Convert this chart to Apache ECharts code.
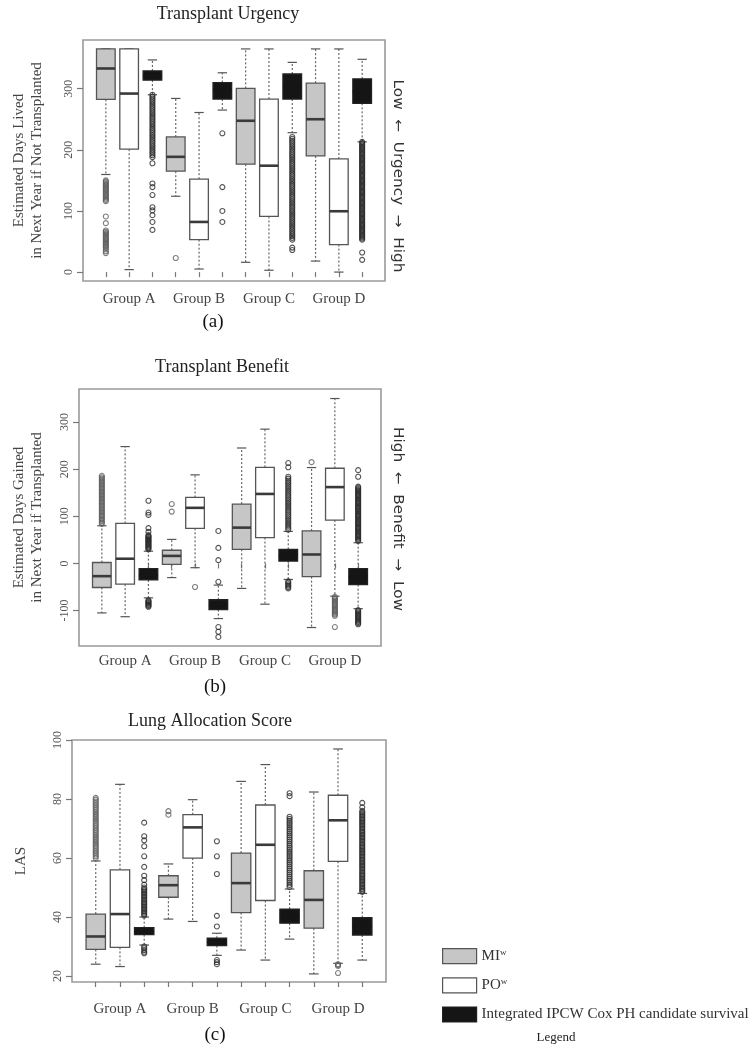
<!DOCTYPE html>
<html><head><meta charset="utf-8">
<script src="https://cdn.jsdelivr.net/npm/echarts@6/dist/echarts.min.js"></script>
<style>html,body{margin:0;padding:0;background:#fff}#c{width:750px;height:1050px}</style>
</head><body><div id="c"></div>
<script>
// ---------- data ----------
const groups = ['Group A', 'Group B', 'Group C', 'Group D'];
const methodNames = ['MI', 'PO', 'IPCW'];
const legendLabels = ['MI{s|w}', 'PO{s|w}', 'Integrated IPCW Cox PH candidate survival'];
const panelTitles = ['Transplant Urgency', 'Transplant Benefit', 'Lung Allocation Score'];
const panelCaptions = ['(a)', '(b)', '(c)'];
const yNames = ['Estimated Days Lived\nin Next Year if Not Transplanted', 'Estimated Days Gained\nin Next Year if Transplanted', 'LAS'];
const sideNotes = ['Low  \u2190  Urgency  \u2192  High', 'High  \u2190  Benefit  \u2192  Low'];
const urgTicks = [0, 100, 200, 300];
const benTicks = [-100, 0, 100, 200, 300];
const lasTicks = [20, 40, 60, 80, 100];

// box stats per group: [lower whisker, Q1, median, Q3, upper whisker]
const urgMI   = [[159.6, 282.5, 333, 365, 365], [124, 165, 188.5, 221, 284], [16, 176.5, 247.5, 300.5, 365], [18, 190, 250, 309, 365]];
const urgPO   = [[4, 201, 292, 365, 365], [5, 53, 82, 152, 261], [3, 91, 174, 283, 365], [0, 45, 99.5, 185, 365]];
const urgIPCW = [[290, 314, 321, 329, 347], [265, 283, 298, 310, 326], [228, 283, 302, 324, 343], [213, 276, 296, 316, 348]];

const benMI   = [[-105, -51, -27, 2, 80], [-30, -2, 16, 28, 51], [-53, 30, 76, 126, 245], [-136, -28, 19, 69, 203.5]];
const benPO   = [[-113, -44, 10, 85, 248], [-9, 74.5, 118, 140, 188], [-86.5, 55, 147.5, 204, 285], [-69.5, 92, 162, 202, 350]];
const benIPCW = [[-73, -35, -25, -11, 26], [-117, -98, -88, -77, -46], [-34, 5, 17, 30, 68], [-96, -45, -28, -11, 44]];

const lasMI   = [[24, 29, 33.4, 41, 59], [39.3, 46.7, 50.8, 54, 58], [28.8, 41.5, 51.5, 61.7, 86], [20.7, 36.2, 45.8, 55.7, 82.4]];
const lasPO   = [[23.2, 29.7, 41, 56, 85], [38.5, 60, 70.4, 74.7, 79.8], [25.4, 45.6, 64.5, 78, 91.7], [24.3, 58.9, 72.8, 81.3, 97]];
const lasIPCW = [[30.5, 34, 35, 36.4, 40], [27, 30.3, 31.5, 32.8, 34.5], [32.5, 37.9, 40, 42.7, 49.5], [25.4, 33.9, 37, 39.8, 48]];

// outliers per group
const urgMIout = [
  [150, 148, 146, 144, 142, 140, 138, 136, 134, 132, 130, 128, 126, 124, 122, 120, 118, 116, 91, 80, 68, 66, 64, 62, 60, 58, 56, 54, 52, 50, 48, 46, 44, 42, 40, 37, 34, 31],
  [23], [], []];
const urgPOout = [[], [], [], []];
const urgIPCWout = [
  [290, 287, 284, 281, 278, 275, 272, 269, 266, 263, 260, 257, 254, 251, 248, 245, 242, 239, 236, 233, 230, 227, 224, 221, 218, 215, 212, 209, 206, 203, 200, 197, 194, 191, 188, 178, 145, 139, 126, 106, 101, 93, 82, 69],
  [227, 139, 100, 82],
  [221, 218, 215, 212, 209, 206, 203, 200, 197, 194, 191, 188, 185, 182, 179, 176, 173, 170, 167, 164, 161, 158, 155, 152, 149, 146, 143, 140, 137, 134, 131, 128, 125, 122, 119, 116, 113, 110, 107, 104, 101, 98, 95, 92, 89, 86, 83, 80, 77, 74, 71, 68, 65, 62, 59, 56, 53, 40, 36],
  [213, 211, 209, 207, 205, 203, 201, 199, 197, 195, 193, 191, 189, 187, 185, 183, 181, 179, 177, 175, 173, 171, 169, 167, 165, 163, 161, 159, 157, 155, 153, 151, 149, 147, 145, 143, 141, 139, 137, 135, 133, 131, 129, 127, 125, 123, 121, 119, 117, 115, 113, 111, 109, 107, 105, 103, 101, 99, 97, 95, 93, 91, 89, 87, 85, 83, 81, 79, 77, 75, 73, 71, 69, 67, 65, 63, 61, 59, 57, 55, 53, 32, 20]
];

const benMIout = [
  [186, 183, 180, 177, 174, 171, 168, 165, 162, 159, 156, 153, 150, 147, 144, 141, 138, 135, 132, 129, 126, 123, 120, 117, 114, 111, 108, 105, 102, 99, 96, 93, 90, 87, 84],
  [126, 110], [], [215]];
const benPOout = [[], [-50], [], [-71, -73.5, -76, -78.5, -81, -83.5, -86, -88.5, -91, -93.5, -96, -98.5, -101, -103.5, -106, -108.5, -111, -135]];
const benIPCWout = [
  [133, 108, 103, 75, 67, 60, 58, 56, 54, 52, 50, 48, 46, 44, 42, 40, 38, 36, 34, 32, 30, -78, -80, -82, -84, -86, -88, -90, -92],
  [69, 33, 7, -39, -135, -145, -156],
  [213, 204, 184, 180, 176, 172, 168, 164, 160, 156, 152, 148, 144, 140, 136, 132, 128, 124, 120, 116, 112, 108, 104, 100, 96, 92, 88, 84, 80, 76, 72, -38, -41, -44, -47, -50, -53],
  [198, 184, 163, 160.5, 158, 155.5, 153, 150.5, 148, 145.5, 143, 140.5, 138, 135.5, 133, 130.5, 128, 125.5, 123, 120.5, 118, 115.5, 113, 110.5, 108, 105.5, 103, 100.5, 98, 95.5, 93, 90.5, 88, 85.5, 83, 80.5, 78, 75.5, 73, 70.5, 68, 65.5, 63, 60.5, 58, 55.5, 53, 50.5, 48,
   -99, -101.5, -104, -106.5, -109, -111.5, -114, -116.5, -119, -121.5, -124, -126.5, -129]
];

const lasMIout = [
  [80.4, 79.8, 79.2, 78.6, 78, 77.4, 76.8, 76.2, 75.6, 75, 74.4, 73.8, 73.2, 72.6, 72, 71.4, 70.8, 70.2, 69.6, 69, 68.4, 67.8, 67.2, 66.6, 66, 65.4, 64.8, 64.2, 63.6, 63, 62.4, 61.8, 61.2, 60.6, 60],
  [75.9, 74.7], [], []];
const lasPOout = [[], [], [], [24, 23.7, 23.4, 21]];
const lasIPCWout = [
  [72, 67.4, 66, 64, 60.6, 57, 54, 52.5, 51, 50, 49.5, 49, 48.5, 48, 47.5, 47, 46.5, 46, 45.5, 45, 44.5, 44, 43.5, 43, 42.5, 42, 41.5, 41, 40.5, 30, 29.4, 28.8, 28.2, 27.7],
  [65.7, 60.6, 54.6, 40.4, 36.8, 25.4, 24.7, 24],
  [82, 81, 74, 73.3, 72.6, 71.9, 71.2, 70.5, 69.8, 69.1, 68.4, 67.7, 67, 66.3, 65.6, 64.9, 64.2, 63.5, 62.8, 62.1, 61.4, 60.7, 60, 59.3, 58.6, 57.9, 57.2, 56.5, 55.8, 55.1, 54.4, 53.7, 53, 52.3, 51.6, 50.9, 50.2],
  [78.7, 77.2, 76, 75.5, 75, 74.5, 74, 73.5, 73, 72.5, 72, 71.5, 71, 70.5, 70, 69.5, 69, 68.5, 68, 67.5, 67, 66.5, 66, 65.5, 65, 64.5, 64, 63.5, 63, 62.5, 62, 61.5, 61, 60.5, 60, 59.5, 59, 58.5, 58, 57.5, 57, 56.5, 56, 55.5, 55, 54.5, 54, 53.5, 53, 52.5, 52, 51.5, 51, 50.5, 50, 49.5, 49, 48.5]
];

// ---------- layout / style ----------
const SERIF = '"Liberation Serif", "DejaVu Serif", serif';
const fills = ['#c6c6c6', '#ffffff', '#151515'];
const borders = ['#555555', '#555555', '#222222'];
const outColors = ['#5e5e5e', '#5e5e5e', '#2a2a2a'];
const panels = [
  {stats: [urgMI, urgPO, urgIPCW], outs: [urgMIout, urgPOout, urgIPCWout], ticks: urgTicks, ymin: -14.6, ymax: 379.6,
   grid: {left: 83, top: 40, width: 302, height: 241}, nameGap: 37, xMargin: 11, yMargin: 8},
  {stats: [benMI, benPO, benIPCW], outs: [benMIout, benPOout, benIPCWout], ticks: benTicks, ymin: -175.2, ymax: 370.2,
   grid: {left: 79, top: 389, width: 302, height: 257}, nameGap: 33, xMargin: 8, yMargin: 8},
  {stats: [lasMI, lasPO, lasIPCW], outs: [lasMIout, lasPOout, lasIPCWout], ticks: lasTicks, ymin: 17.96, ymax: 100.04,
   grid: {left: 72, top: 740, width: 314, height: 242}, nameGap: 42, xMargin: 20, yMargin: 8}
];

function renderBox(params, api) {
  const x = api.value(0);
  const m = api.value(6);
  const pLow = api.coord([x, api.value(1)]);
  const pQ1 = api.coord([x, api.value(2)]);
  const pMed = api.coord([x, api.value(3)]);
  const pQ3 = api.coord([x, api.value(4)]);
  const pHigh = api.coord([x, api.value(5)]);
  const w = api.size([0.8, 0])[0];
  const cx = pLow[0];
  const wh = {stroke: '#666', lineWidth: 1.2, lineDash: [2, 2]};
  const cap = {stroke: '#555', lineWidth: 1.2};
  return {
    type: 'group',
    children: [
      {type: 'line', shape: {x1: cx, y1: pQ3[1], x2: cx, y2: pHigh[1]}, style: wh},
      {type: 'line', shape: {x1: cx, y1: pQ1[1], x2: cx, y2: pLow[1]}, style: wh},
      {type: 'line', shape: {x1: cx - w / 4, y1: pHigh[1], x2: cx + w / 4, y2: pHigh[1]}, style: cap},
      {type: 'line', shape: {x1: cx - w / 4, y1: pLow[1], x2: cx + w / 4, y2: pLow[1]}, style: cap},
      {type: 'rect', shape: {x: cx - w / 2, y: pQ3[1], width: w, height: pQ1[1] - pQ3[1]},
       style: {fill: fills[m], stroke: borders[m], lineWidth: 1.3}},
      {type: 'line', shape: {x1: cx - w / 2, y1: pMed[1], x2: cx + w / 2, y2: pMed[1]},
       style: {stroke: m === 2 ? '#151515' : '#3a3a3a', lineWidth: 2.6}}
    ]
  };
}

const grids = [], xAxes = [], yAxes = [], series = [];
panels.forEach((p, pi) => {
  grids.push(Object.assign({show: true, borderColor: '#9a9a9a', borderWidth: 1.6, backgroundColor: 'transparent'}, p.grid));
  xAxes.push({
    gridIndex: pi, type: 'value', min: 0.02, max: 12.98,
    splitLine: {show: false}, axisLine: {show: false},
    axisTick: {show: true, customValues: [1, 2, 3, 4, 5, 6, 7, 8, 9, 10, 11, 12], length: 5, lineStyle: {color: '#777', width: 1.2}},
    axisLabel: {customValues: [2, 5, 8, 11], formatter: v => groups[Math.round((v - 2) / 3)],
      fontFamily: SERIF, fontSize: 15, color: '#444', margin: p.xMargin}
  });
  yAxes.push({
    gridIndex: pi, type: 'value', min: p.ymin, max: p.ymax,
    splitLine: {show: false}, axisLine: {show: false},
    axisTick: {show: true, customValues: p.ticks, length: 6, lineStyle: {color: '#777', width: 1.2}},
    axisLabel: {customValues: p.ticks, rotate: 90, fontFamily: SERIF, fontSize: 12, color: '#555', margin: p.yMargin},
    name: yNames[pi], nameLocation: 'middle', nameRotate: 90, nameGap: p.nameGap,
    nameTextStyle: {fontFamily: SERIF, fontSize: 15, color: '#444', lineHeight: 18}
  });
  p.outs.forEach((outArr, m) => {
    const data = [];
    outArr.forEach((vals, g) => vals.forEach(v => data.push([g * 3 + m + 1, v])));
    series.push({
      name: 'out' + pi + m, type: 'scatter', xAxisIndex: pi, yAxisIndex: pi, data,
      symbol: 'circle', symbolSize: 5, silent: true,
      itemStyle: {color: 'rgba(0,0,0,0)', borderColor: outColors[m], borderWidth: 1.1}
    });
  });
  p.stats.forEach((st, m) => {
    series.push({
      name: methodNames[m], type: 'custom', xAxisIndex: pi, yAxisIndex: pi,
      renderItem: renderBox,
      itemStyle: {color: fills[m], borderColor: borders[m], borderWidth: 1.2},
      encode: {x: 0, y: [1, 2, 3, 4, 5]},
      data: st.map((s, g) => [g * 3 + m + 1, s[0], s[1], s[2], s[3], s[4], m])
    });
  });
});

const graphics = [];
const titlePos = [[228, 14], [222, 367], [210, 721]];
panelTitles.forEach((t, i) => graphics.push({type: 'text', x: titlePos[i][0], y: titlePos[i][1],
  style: {text: t, font: '18px ' + SERIF, fill: '#222', textAlign: 'center', textVerticalAlign: 'middle'}}));
const capPos = [[213, 322], [215, 687], [215, 1035]];
panelCaptions.forEach((t, i) => graphics.push({type: 'text', x: capPos[i][0], y: capPos[i][1],
  style: {text: t, font: '19px ' + SERIF, fill: '#111', textAlign: 'center', textVerticalAlign: 'middle'}}));
const sidePos = [[398, 176], [398, 519]];
sideNotes.forEach((t, i) => graphics.push({type: 'text', x: sidePos[i][0], y: sidePos[i][1], rotation: -Math.PI / 2,
  scaleX: 1.09,
  style: {text: t, font: '14px "DejaVu Sans", sans-serif', fill: '#333', textAlign: 'center', textVerticalAlign: 'middle'}}));
graphics.push({type: 'text', x: 556, y: 1038,
  style: {text: 'Legend', font: '13px ' + SERIF, fill: '#222', textAlign: 'center', textVerticalAlign: 'middle'}});

const chart = echarts.init(document.getElementById('c'), null, {renderer: 'canvas'});
chart.setOption({
  animation: false,
  backgroundColor: '#fff',
  grid: grids, xAxis: xAxes, yAxis: yAxes, series,
  legend: {
    orient: 'vertical', left: 437, top: 943, itemWidth: 34, itemHeight: 15, itemGap: 13, icon: 'rect',
    selectedMode: false,
    data: methodNames.map((n, m) => ({name: n, itemStyle: {color: fills[m], borderColor: borders[m], borderWidth: 1.2}})),
    formatter: n => legendLabels[methodNames.indexOf(n)],
    textStyle: {fontFamily: SERIF, fontSize: 15, color: '#333',
      rich: {s: {fontFamily: SERIF, fontSize: 9, color: '#333', padding: [0, 0, 7, 0]}}}
  },
  graphic: graphics
});
</script>
</body></html>
